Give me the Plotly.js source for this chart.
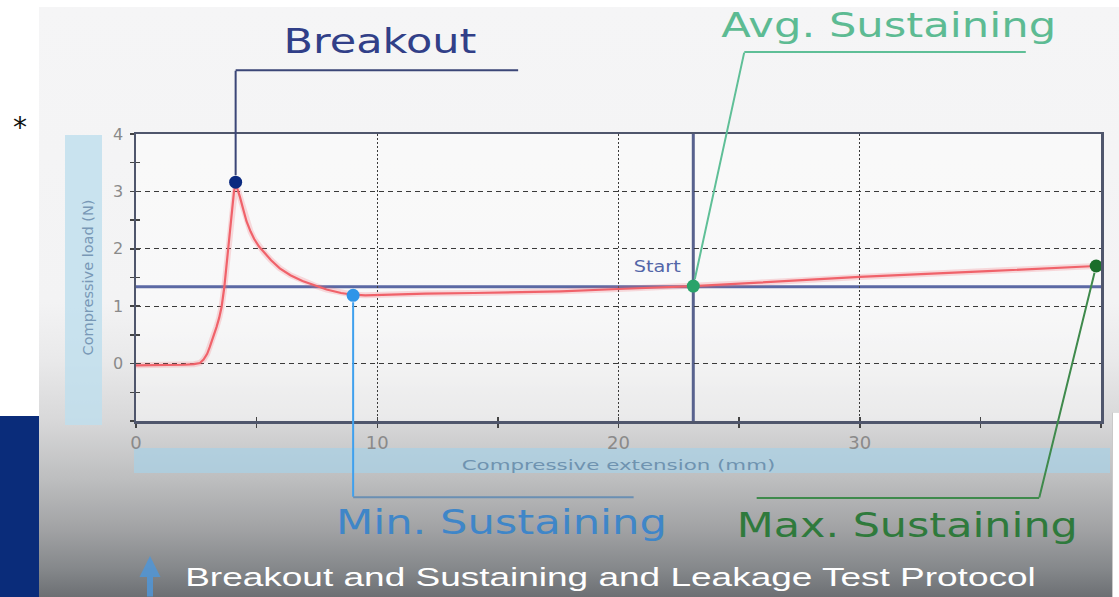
<!DOCTYPE html>
<html>
<head>
<meta charset="utf-8">
<script src="https://cdn.plot.ly/plotly-3.0.1.min.js"></script>
<style>
html,body{margin:0;padding:0;background:#ffffff;width:1119px;height:597px;overflow:hidden}
#slide{position:absolute;left:39px;top:7px;width:1080px;height:590px;
  background:linear-gradient(to bottom,#f5f5f6 0%,#f3f3f4 50%,#e9e9ea 60%,#d8d8d9 70%,#bdbebf 80%,#a1a2a4 88.6%,#84878a 95.4%,#6c6f73 100%)}
#navy{position:absolute;left:0;top:416px;width:39px;height:181px;background:#0a2c7a}
#panel{position:absolute;left:1112px;top:412px;width:7px;height:185px;background:#ffffff;border-left:1px solid #c9c9c9;border-top:1px solid #dddddd}
#chart{position:absolute;left:0;top:0;width:1119px;height:597px}
</style>
</head>
<body>
<div id="slide"></div>
<div id="navy"></div>
<div id="panel"></div>
<div id="chart"></div>
<script>
// ---- data ----
const extensionMm = [0, 1, 2, 2.4, 2.65, 2.8, 2.95, 3.06, 3.2, 3.34, 3.45, 3.55, 3.66, 3.82, 3.96, 4.06, 4.13,
  4.2, 4.31, 4.45, 4.58, 4.75, 4.9, 5.1, 5.3, 5.6, 5.96, 6.4, 6.9, 7.4, 7.9, 8.5, 9.0, 9.5, 10.1,
  12, 14, 16, 17.6, 20, 23.1, 25.8, 30, 35.3, 39.8];
const loadN = [-0.03, -0.03, -0.02, -0.01, 0.01, 0.07, 0.17, 0.29, 0.45, 0.64, 0.8, 0.99, 1.33, 1.97, 2.55, 2.99, 3.14,
  3.05, 2.90, 2.68, 2.48, 2.30, 2.17, 2.04, 1.94, 1.80, 1.66, 1.54, 1.44, 1.36, 1.29, 1.23, 1.20, 1.19, 1.20,
  1.22, 1.23, 1.24, 1.26, 1.30, 1.35, 1.41, 1.51, 1.61, 1.70];

const pointNames = ['Breakout', 'Min. Sustaining', 'Avg. Sustaining', 'Max. Sustaining'];
const pointX = [4.13, 9.0, 23.1, 39.8];
const pointY = [3.16, 1.19, 1.35, 1.70];
const pointColors = ['#0b2a80', '#2f95e8', '#2aa36a', '#1b6e2a'];

const startX = 23.1;      // vertical "Start" line
const avgLevel = 1.34;    // horizontal average line

const xTicks = [0, 10, 20, 30];
const yTicks = [0, 1, 2, 3, 4];
const xRange = [0, 40];
const yRange = [-1, 4];

const xTitle = 'Compressive extension (mm)';
const yTitle = 'Compressive load (N)';
const footer = 'Breakout and Sustaining and Leakage Test Protocol';

// ---- layout helpers (pixel -> paper) ----
const L = 136, T = 134, W = 965, H = 287;
const px = X => (X - L) / W;
const py = Y => (T + H - Y) / H;
const FONT = 'DejaVu Sans';

const traces = [
  {x: extensionMm, y: loadN, type: 'scatter', mode: 'lines', hoverinfo: 'skip',
   line: {color: 'rgba(240,100,110,0.22)', width: 6}, showlegend: false},
  {x: extensionMm, y: loadN, type: 'scatter', mode: 'lines', name: 'Load',
   line: {color: '#f0626a', width: 2.2}, showlegend: false},
  {x: pointX, y: pointY, text: pointNames, type: 'scatter', mode: 'markers', cliponaxis: false,
   marker: {size: 13, color: pointColors}, showlegend: false},
  {x: [], y: [], xaxis: 'x2', yaxis: 'y2', type: 'scatter', showlegend: false}
];

// text labels
const labelDefs = [
  {text: pointNames[0], x: 380, y: 41.5, size: 33, color: '#313f88', w: 193, fam: FONT},
  {text: pointNames[2], x: 888, y: 25, size: 33, color: '#5dbb93', w: 335, fam: FONT},
  {text: pointNames[1], x: 501, y: 522.5, size: 33, color: '#3f86c8', w: 331, fam: FONT},
  {text: pointNames[3], x: 907, y: 525, size: 33, color: '#2f7a3c', w: 341, fam: FONT},
  {text: footer, x: 610, y: 577, size: 25, color: '#ffffff', w: 851, fam: 'Liberation Sans'},
  {text: 'Start', x: 657, y: 267, size: 15, color: '#5366a8', w: 47, fam: FONT},
  {text: '*', x: 20, y: 128, size: 28, color: '#111111', w: null, fam: FONT}
];
const annotations = labelDefs.map(d => ({
  text: d.text, xref: 'paper', yref: 'paper', x: px(d.x), y: py(d.y),
  xanchor: 'center', yanchor: 'middle', showarrow: false,
  font: {family: d.fam, size: d.size, color: d.color}
}));

// leader lines (pixel offsets from each marker): first leg, then second leg
const leaders = [
  {a1: [0, -112], a2: [283, 0], c1: '#3b4677', c2: '#3b4677'},
  {a1: [0, 202], a2: [281, 0], c1: '#3fa0ee', c2: '#6a8fb3'},
  {a1: [51, -234], a2: [282, 0], c1: '#5fbf97', c2: '#5fbf97'},
  {a1: [-57, 232], a2: [-283, 0], c1: '#3f8a4c', c2: '#3f8a4c'}
];
leaders.forEach((ld, i) => {
  annotations.push({x: pointX[i], y: pointY[i], xref: 'x', yref: 'y', text: '', showarrow: true,
    arrowhead: 0, arrowwidth: 2, arrowcolor: ld.c1, ax: ld.a1[0], ay: ld.a1[1],
    axref: 'pixel', ayref: 'pixel', standoff: 7, borderpad: 0});
  annotations.push({x: pointX[i], y: pointY[i], xref: 'x', yref: 'y', text: '', showarrow: true,
    xshift: ld.a1[0], yshift: -ld.a1[1],
    arrowhead: 0, arrowwidth: 2, arrowcolor: ld.c2, ax: ld.a2[0], ay: ld.a2[1],
    axref: 'pixel', ayref: 'pixel', standoff: 0, borderpad: 0});
});
// small arrow at bottom-left
annotations.push({xref: 'paper', yref: 'paper', x: px(150), y: py(556), text: '', showarrow: true,
  arrowhead: 2, arrowsize: 0.7, arrowwidth: 6, arrowcolor: 'rgba(80,150,215,0.85)', ax: 0, ay: 46,
  axref: 'pixel', ayref: 'pixel', borderpad: 0});

const shapes = [
  // y title band
  {type: 'rect', xref: 'paper', yref: 'paper', x0: px(65), x1: px(102), y0: py(425), y1: py(135),
   fillcolor: 'rgba(190,222,238,0.8)', line: {width: 0}, layer: 'below'},
  // x title band
  {type: 'rect', xref: 'paper', yref: 'paper', x0: px(134), x1: px(1110), y0: py(473), y1: py(448),
   fillcolor: 'rgba(170,208,228,0.75)', line: {width: 0}, layer: 'below'},
  // average level line
  {type: 'line', xref: 'paper', yref: 'y', x0: 0, x1: 1, y0: avgLevel, y1: avgLevel,
   line: {color: '#5b69a4', width: 3}, layer: 'between'},
  // start line
  {type: 'line', xref: 'x', yref: 'paper', x0: startX, x1: startX, y0: 0, y1: 1,
   line: {color: '#58628e', width: 3}, layer: 'between'}
];

const axFrame = {showline: true, mirror: true, linecolor: '#4f566c', linewidth: 2.5, zeroline: false,
  fixedrange: true, automargin: false};

const layout = {
  width: 1119, height: 597,
  margin: {l: L, r: 1119 - L - W, t: T, b: 597 - T - H},
  paper_bgcolor: 'rgba(0,0,0,0)',
  plot_bgcolor: 'rgba(255,255,255,0.45)',
  showlegend: false,
  xaxis: Object.assign({}, axFrame, {
    range: xRange, tickmode: 'array', tickvals: xTicks, ticktext: xTicks.map(String),
    showgrid: true, gridcolor: '#3a3a3a', gridwidth: 1.2, griddash: '2px,2px',
    ticks: 'outside', ticklen: 4, tickwidth: 1.5, tickcolor: '#444',
    minor: {tickmode: 'linear', tick0: 0, dtick: 5, ticks: 'outside', ticklen: 4, tickwidth: 1.5, tickcolor: '#444', showgrid: false},
    tickfont: {family: FONT, size: 18, color: '#8a8a8a'},
    title: {text: xTitle, standoff: 8, font: {family: FONT, size: 14, color: '#6f93b0'}}
  }),
  yaxis: Object.assign({}, axFrame, {
    range: yRange, tickmode: 'array', tickvals: yTicks, ticktext: yTicks.map(String),
    showgrid: true, gridcolor: '#3a3a3a', gridwidth: 1.2, griddash: '5px,4px',
    ticks: 'outside', ticklen: 4, tickwidth: 1.5, tickcolor: '#444',
    minor: {tickmode: 'linear', tick0: 0, dtick: 0.5, ticks: 'outside', ticklen: 4, tickwidth: 1.5, tickcolor: '#444', showgrid: false},
    tickfont: {family: FONT, size: 16, color: '#8a8a8a'},
    ticklabelstandoff: 3,
    title: {text: yTitle, standoff: 16, font: {family: FONT, size: 14.5, color: '#7898b6'}}
  }),
  xaxis2: {overlaying: 'x', anchor: 'y2', range: xRange, fixedrange: true, showgrid: false, zeroline: false,
    showline: false, showticklabels: false, tickmode: 'array', tickvals: xTicks,
    ticks: 'inside', ticklen: 4, tickwidth: 1.5, tickcolor: '#444',
    minor: {tickmode: 'linear', tick0: 0, dtick: 5, ticks: 'inside', ticklen: 4, tickwidth: 1.5, tickcolor: '#444', showgrid: false}},
  yaxis2: {overlaying: 'y', anchor: 'x2', range: yRange, fixedrange: true, showgrid: false, zeroline: false,
    showline: false, showticklabels: false, tickmode: 'array', tickvals: yTicks,
    ticks: 'inside', ticklen: 4, tickwidth: 1.5, tickcolor: '#444',
    minor: {tickmode: 'linear', tick0: 0, dtick: 0.5, ticks: 'inside', ticklen: 4, tickwidth: 1.5, tickcolor: '#444', showgrid: false}},
  shapes: shapes,
  annotations: annotations
};

// widen a text horizontally (the reference picture is stretched sideways)
function stretch(el, target) {
  if (!el || !target) return;
  const len = el.getComputedTextLength();
  if (!len) return;
  el.style.transformBox = 'fill-box';
  el.style.transformOrigin = 'center';
  el.style.transform = 'scaleX(' + (target / len).toFixed(3) + ')';
}

Plotly.newPlot('chart', traces, layout, {staticPlot: true, displayModeBar: false}).then(gd => {
  labelDefs.forEach((d, i) => {
    if (!d.w) return;
    stretch(gd.querySelector('.annotation[data-index="' + i + '"] text.annotation-text'), d.w);
  });
  stretch(gd.querySelector('text.xtitle'), 314);
});
</script>
</body>
</html>
